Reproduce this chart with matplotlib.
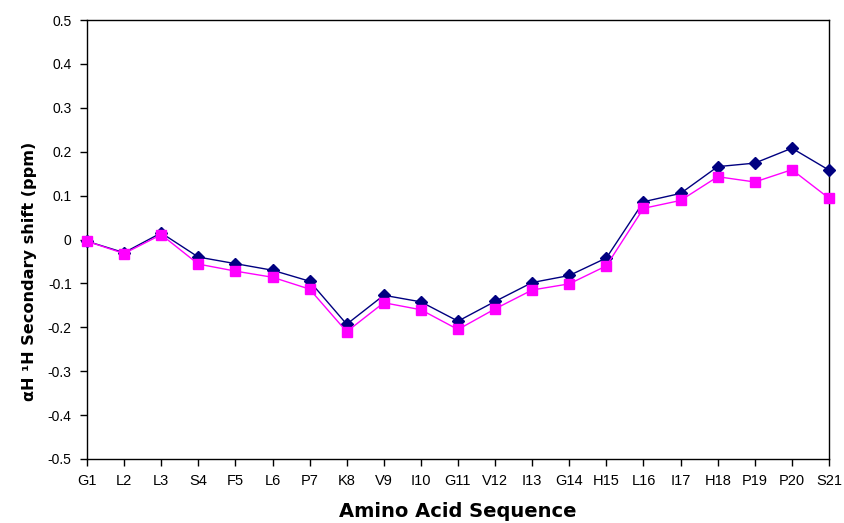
import matplotlib
matplotlib.use("Agg")
import matplotlib.pyplot as plt

categories = ["G1", "L2", "L3", "S4", "F5", "L6", "P7", "K8", "V9", "I10", "G11",
              "V12", "I13", "G14", "H15", "L16", "I17", "H18", "P19", "P20", "S21"]
series_blue = [-0.004, -0.030, 0.015, -0.040, -0.055, -0.070, -0.095, -0.193, -0.127, -0.142,
               -0.186, -0.141, -0.098, -0.082, -0.042, 0.086, 0.105, 0.166, 0.174, 0.208, 0.158]
series_pink = [-0.004, -0.032, 0.011, -0.056, -0.072, -0.086, -0.113, -0.210, -0.144, -0.160,
               -0.205, -0.158, -0.115, -0.101, -0.060, 0.071, 0.089, 0.143, 0.131, 0.159, 0.094]
yticks = [-0.5, -0.4, -0.3, -0.2, -0.1, 0, 0.1, 0.2, 0.3, 0.4, 0.5]
ytick_labels = ["-0.5", "-0.4", "-0.3", "-0.2", "-0.1", "0", "0.1", "0.2", "0.3", "0.4", "0.5"]

fig = plt.figure(figsize=(8.45, 5.23), dpi=100)
ax = fig.add_axes([87/845, 1-459/523, (829-87)/845, (459-20)/523])

x = list(range(len(categories)))
ax.plot(x, series_blue, color="#000080", marker="D", markersize=6.5, linewidth=1.0,
        markeredgecolor="#000080", zorder=3, clip_on=False)
ax.plot(x, series_pink, color="#FF00FF", marker="s", markersize=6.5, linewidth=1.0,
        markeredgecolor="#FF00FF", zorder=4, clip_on=False)

ax.set_xlim(0, len(categories)-1)
ax.set_ylim(-0.5, 0.5)
ax.set_xticks(x)
ax.set_xticklabels(categories, fontfamily="Liberation Sans", fontsize=10.5)
ax.set_yticks(yticks)
ax.set_yticklabels(ytick_labels, fontfamily="Liberation Sans", fontsize=10)
ax.tick_params(direction="out", length=5, width=1, color="black", pad=6)
for s in ax.spines.values():
    s.set_linewidth(1.0)
    s.set_color("black")

ax.set_xlabel("Amino Acid Sequence", fontfamily="DejaVu Sans", fontweight="bold",
              fontsize=14, labelpad=10)
ax.set_ylabel("αH ¹H Secondary shift (ppm)", fontfamily="DejaVu Sans", fontweight="bold",
              fontsize=11.6)
ax.yaxis.set_label_coords(-0.068, 0.428)

fig.savefig("out.png", dpi=100)
